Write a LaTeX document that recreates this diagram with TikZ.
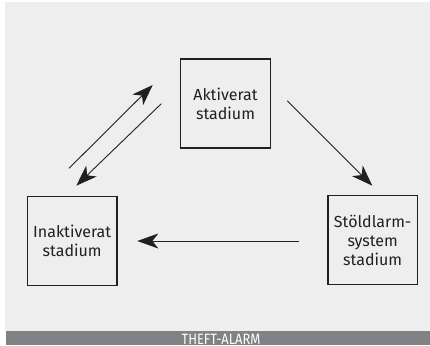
\documentclass[tikz,border=0pt]{standalone}
\usepackage{fontspec}
\setmainfont{Fira Sans}
\usetikzlibrary{arrows.meta}
\definecolor{panel}{HTML}{EEEEEE}
\definecolor{ink}{HTML}{231F20}
\definecolor{barcol}{HTML}{808285}
\begin{document}
\begin{tikzpicture}[x=1pt,y=-1pt,
  statebox/.style={draw=ink, line width=1.1pt, minimum width=89.5pt, minimum height=89pt,
    inner sep=0pt, align=center, text=ink, font=\fontsize{16}{19}\selectfont},
  flow/.style={draw=ink, line width=0.9pt,
    -{Stealth[length=21pt, width=15pt, inset=6pt]}}]
  % canvas and footer
  \useasboundingbox (0,0) rectangle (430,345);
  \fill[white] (0,0) rectangle (430,345);
  \fill[panel] (5,2) rectangle (430,331);
  \fill[barcol] (6,331) rectangle (430,345);
  \node[anchor=base, text=white, inner sep=0pt] (title) at (221,344.5)
    {\scalebox{0.86}[1]{\fontsize{15}{15}\selectfont THEFT-ALARM}};
  % states
  \node[statebox] (akt) at (225.5,103.5) {Aktiverat\\stadium};
  \node[statebox] (inakt) at (72.2,241.2) {Inaktiverat\\stadium};
  \node[statebox] (stold) at (372.7,240.4) {Stöldlarm-\\system\\stadium};
  % transition end points
  \coordinate (upS) at (69,168.3);
  \coordinate (upE) at (152.7,85);
  \coordinate (dnS) at (161.3,103.7);
  \coordinate (dnE) at (76.3,185.7);
  \coordinate (rdS) at (287.3,100.7);
  \coordinate (rdE) at (372.3,185.7);
  \coordinate (hzS) at (298.7,241);
  \coordinate (hzE) at (137.3,241);
  % transitions
  \draw[flow] (upS) -- (upE);
  \draw[flow] (dnS) -- (dnE);
  \draw[flow] (rdS) -- (rdE);
  \draw[flow] (hzS) -- (hzE);
\end{tikzpicture}
\end{document}
